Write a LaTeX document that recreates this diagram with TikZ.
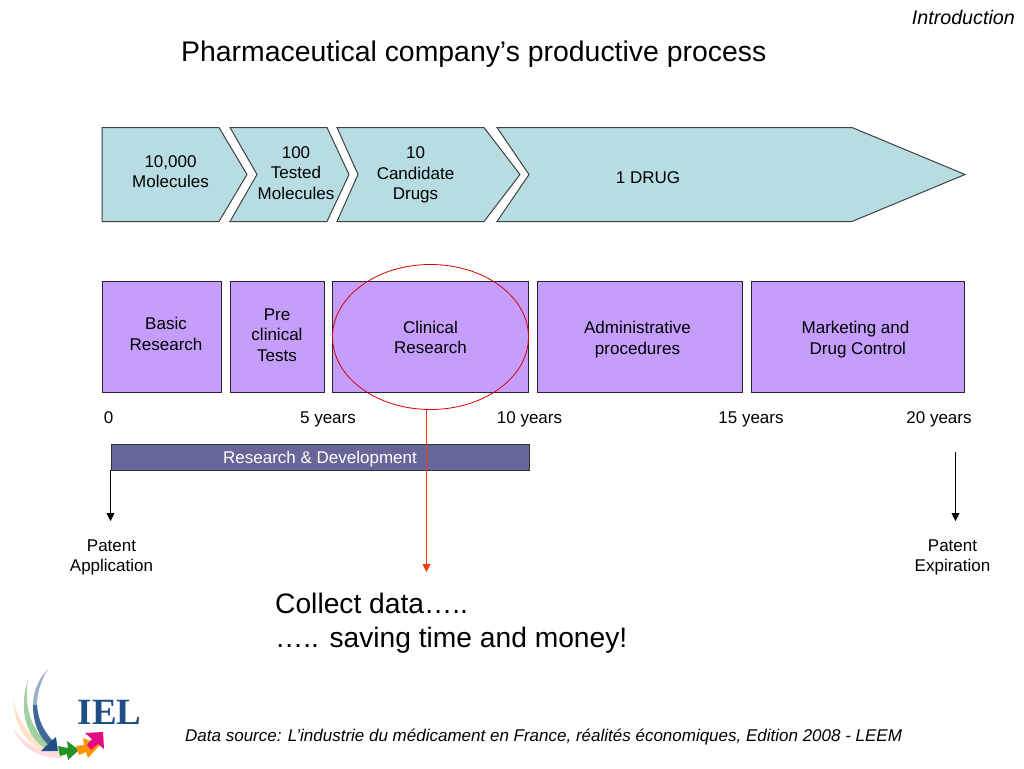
\documentclass[tikz,border=0pt]{standalone}
\usepackage{fontspec}
\setmainfont{Liberation Sans}
\newfontfamily\logofont{Liberation Serif}
\usetikzlibrary{arrows.meta, positioning, shapes.geometric, calc}
\definecolor{chevronfill}{HTML}{B7DDE3}
\definecolor{stagefill}{HTML}{C49DFD}
\definecolor{rdfill}{HTML}{666699}
\definecolor{callout}{HTML}{F03A10}
\definecolor{logoblue}{HTML}{1F4E86}

\begin{document}
\begin{tikzpicture}[x=1pt, y=-1pt,
    chevron/.style={fill=chevronfill, draw=black!75, line width=1pt},
    stage/.style={rectangle, draw=black!85, fill=stagefill, line width=0.8pt, anchor=north west, inner sep=0pt},
    label/.style={align=center, font=\fontsize{17}{20.3}\selectfont, inner sep=0pt},
    arrow/.style={-{Triangle[length=8pt, width=8pt]}, line width=0.9pt}]
    \useasboundingbox (0,0) rectangle (1024,768);

    % Titles
    \node[font=\itshape\fontsize{19.7}{22}\selectfont, anchor=east, inner sep=0pt] (section) at (1015,17.5) {Introduction};
    \node[font=\fontsize{28.4}{32}\selectfont, anchor=west, inner sep=0pt] (title) at (181,54.5) {Pharmaceutical company’s productive process};

    % Chevrons
    \path[chevron] (102,127.5) -- (219,127.5) -- (247,174.5) -- (219,221.5) -- (102,221.5) -- cycle;
    \path[chevron] (230,127.5) -- (327,127.5) -- (349,174.5) -- (327,221.5) -- (230,221.5) -- (257,174.5) -- cycle;
    \path[chevron] (337,127.5) -- (484,127.5) -- (520,174.5) -- (484,221.5) -- (337,221.5) -- (358,174.5) -- cycle;
    \path[chevron] (497,127.5) -- (852,127.5) -- (965,174.5) -- (852,221.5) -- (497,221.5) -- (529,174.5) -- cycle;
    \node[label] (mol) at (170.5,171.5) {10,000\\Molecules};
    \node[label] (tested) at (296,173) {100\\Tested\\Molecules};
    \node[label] (cand) at (415.5,175) {10\\Candidate\\Drugs};
    \node[label] (drug) at (648,177.5) {1 DRUG};

    % Stages
    \node[stage, minimum width=119pt, minimum height=111pt] (basic) at (102,281) {};
    \node[stage, minimum width=94pt, minimum height=111pt] (pre) at (230,281) {};
    \node[stage, minimum width=196pt, minimum height=111pt] (clin) at (332,281) {};
    \node[stage, minimum width=205pt, minimum height=111pt] (admin) at (537,281) {};
    \node[stage, minimum width=213pt, minimum height=111pt] (market) at (751,281) {};
    \node[label] (basict) at (166,334) {Basic\\Research};
    \node[label] (pret) at (277,335) {Pre\\clinical\\Tests};
    \node[label] (clint) at (430.5,337.5) {Clinical\\Research};
    \node[label] (admint) at (637.5,339.5) {Administrative\\procedures};
    \node[label] (markett) at (855.5,339.5) {Marketing and\\\hspace*{4.7pt}Drug Control};
    \node[ellipse, draw=red!85!black, line width=0.8pt, minimum width=196pt, minimum height=145pt, inner sep=0pt] (focus) at (430.5,337) {};

    % Years
    \node[label] (y0) at (108.5,417.5) {0};
    \node[label] (y5) at (328,419.5) {5 years};
    \node[label] (y10) at (529.5,419.5) {10 years};
    \node[label] (y15) at (751,419.5) {15 years};
    \node[label] (y20) at (939,419.5) {20 years};

    % R&D bar
    \node[rectangle, draw=black!80, fill=rdfill, line width=0.8pt, minimum width=418pt, minimum height=26pt, anchor=north west, inner sep=0pt] (rd) at (110.5,443.5) {};
    \node[label, text=white] (rdt) at (320,459) {Research \& Development};

    % Patents
    \node[label] (appl) at (111.5,557.5) {Patent\\Application};
    \node[label] (expi) at (952.5,557.5) {Patent\\Expiration};
    \coordinate (applend) at (110.5,521);
    \coordinate (expistart) at (955.5,452);
    \coordinate (expiend) at (955.5,521);
    \coordinate (focusend) at (426.5,572);
    \draw[arrow] (rd.south west) -- (applend);
    \draw[arrow] (expistart) -- (expiend);
    \draw[arrow, callout] (focus.south -| focusend) -- (focusend);

    % Footer
    \node[font=\fontsize{28.2}{34}\selectfont, align=left, anchor=west, inner sep=0pt] (collect) at (275,623.5) {Collect data…..\\….. saving time and money!};
    \node[font=\itshape\fontsize{17}{20}\selectfont, anchor=west, inner sep=0pt] (source) at (185,736.5) {Data source: L’industrie du médicament en France, réalités économiques, Edition 2008 - LEEM};

    % Logo
    \node[font=\logofont\bfseries\fontsize{37}{37}\selectfont, text=logoblue, anchor=west, inner sep=0pt] (iel) at (77.5,712) {IEL};
    \fill[pink!55] (13,728) .. controls (24,745) and (42,752) .. (62,752) -- (62,758) .. controls (40,758) and (22,750) .. (13,728) -- cycle;
    \fill[orange!22] (13,698) .. controls (18,725) and (34,742) .. (52,746) -- (50,752) .. controls (30,748) and (14,730) .. (13,698) -- cycle;
    \fill[green!35!gray!55] (28,680) .. controls (23,710) and (34,735) .. (52,745) -- (48,750) .. controls (26,738) and (18,710) .. (28,680) -- cycle;
    \fill[logoblue!45] (48,669) .. controls (36,682) and (33,695) .. (33,705) -- (37,705) .. controls (37,695) and (40,682) .. (48,669) -- cycle;
    \fill[logoblue!85] (33,705) .. controls (33,725) and (40,738) .. (50,746) -- (54,742) .. controls (44,732) and (38,720) .. (37,705) -- cycle;
    \fill[logoblue] (56,737) -- (58,751) -- (41,751) -- (47,745) -- (50,742) -- cycle;
    \fill[green!50!black!85] (58,746) -- (68,748) -- (67,741) -- (79,750) -- (68,760) -- (67,754) -- (60,756) -- cycle;
    \fill[orange!85!yellow] (76,746) -- (84,745) -- (83,738) -- (100,745) -- (88,758) -- (86,752) -- (79,755) -- cycle;
    \fill[magenta!85!purple] (85,733) -- (103,732) -- (104,749) -- (98,744) -- (91,750) -- (87,745) -- (92,739) -- cycle;
\end{tikzpicture}
\end{document}
